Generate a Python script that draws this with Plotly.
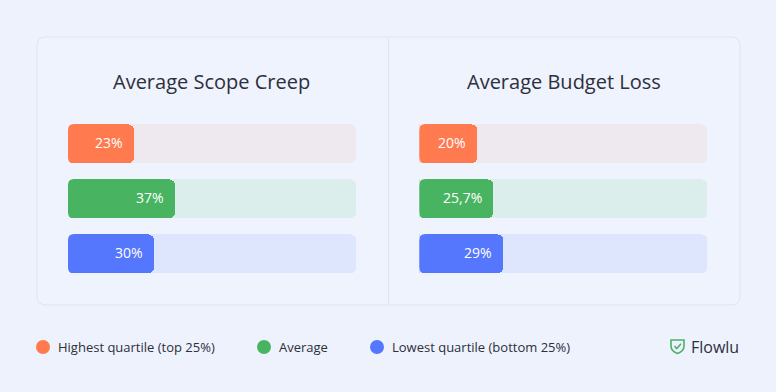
import plotly.graph_objects as go

W, H = 776, 392

categories = ["Highest quartile (top 25%)", "Average", "Lowest quartile (bottom 25%)"]
scope_creep = [23, 37, 30]
scope_labels = ["23%", "37%", "30%"]
budget_loss = [20, 25.7, 29]
budget_labels = ["20%", "25,7%", "29%"]
titles = ["Average Scope Creep", "Average Budget Loss"]
track_max = [100, 100, 100]

bar_colors = ["#FF7A4F", "#48B461", "#5577FD"]
track_colors = ["#EEE8EF", "#DCEEEC", "#DDE6FD"]
BG = "#EDF2FD"
CARD = "#EEF3FE"
TEXT = "#2D2F3B"
FONT = "Open Sans"
BAR_W = 0.72
CAT_PX = 55
RAD = 6


def px(x):
    return x / W


def py(y):
    return 1 - y / H


fig = go.Figure()

# track bars on x/y and x2/y2; value bars on overlaying axes x3/y3 and x4/y4
panels = [("x", "y", "x3", "y3", scope_creep, scope_labels),
          ("x2", "y2", "x4", "y4", budget_loss, budget_labels)]
half = BAR_W * CAT_PX / 2
mask_top = f"M -0.6,{half + 0.6} L {RAD},{half + 0.6} L {RAD},{half} Q 0,{half} 0,{half - RAD} L -0.6,{half - RAD} Z"
mask_bot = f"M -0.6,{-half - 0.6} L {RAD},{-half - 0.6} L {RAD},{-half} Q 0,{-half} 0,{-half + RAD} L -0.6,{-half + RAD} Z"

for xa, ya, xv, yv, vals, labels in panels:
    fig.add_trace(go.Bar(
        x=track_max, y=categories, orientation="h", xaxis=xa, yaxis=ya,
        marker=dict(color=track_colors, cornerradius=RAD, line=dict(width=0)),
        width=BAR_W, hoverinfo="skip", showlegend=False,
    ))
    fig.add_trace(go.Bar(
        x=vals, y=categories, orientation="h", xaxis=xv, yaxis=yv,
        marker=dict(color=bar_colors, cornerradius=RAD, line=dict(width=0)),
        width=BAR_W, showlegend=False,
    ))
    for v, c, lab in zip(vals, categories, labels):
        fig.add_annotation(
            x=v, y=c, xref=xv, yref=yv, text=lab, showarrow=False,
            xanchor="right", xshift=-9, yshift=1,
            font=dict(family=FONT, size=14, color="white"),
        )
        # round the left (base) corners by masking them with the card colour
        for mp in (mask_top, mask_bot):
            fig.add_shape(type="path", path=mp, xref=xv, yref=yv,
                          xsizemode="pixel", ysizemode="pixel",
                          xanchor=0, yanchor=c,
                          fillcolor=CARD, line=dict(width=0), layer="above")

ydom = [py(281.3), py(116.3)]
xdom1 = [px(68), px(356)]
xdom2 = [px(419.3), px(707.7)]
axis_common = dict(showgrid=False, zeroline=False, showticklabels=False, showline=False, fixedrange=True)
fig.update_layout(
    width=W, height=H, autosize=False,
    margin=dict(l=0, r=0, t=0, b=0),
    paper_bgcolor=BG, plot_bgcolor="rgba(0,0,0,0)",
    barmode="overlay", bargap=0,
    xaxis=dict(domain=xdom1, range=[0, 100], anchor="y", **axis_common),
    yaxis=dict(domain=ydom, autorange="reversed", anchor="x", **axis_common),
    xaxis2=dict(domain=xdom2, range=[0, 100], anchor="y2", **axis_common),
    yaxis2=dict(domain=ydom, autorange="reversed", anchor="x2", **axis_common),
    xaxis3=dict(domain=xdom1, range=[0, 100], anchor="y3", overlaying="x", **axis_common),
    yaxis3=dict(domain=ydom, autorange="reversed", anchor="x3", overlaying="y", **axis_common),
    xaxis4=dict(domain=xdom2, range=[0, 100], anchor="y4", overlaying="x2", **axis_common),
    yaxis4=dict(domain=ydom, autorange="reversed", anchor="x4", overlaying="y2", **axis_common),
    showlegend=False,
    font=dict(family=FONT, color=TEXT),
)

# card with rounded corners (pixel-sized path around its centre)
cw, ch, r = 351.5, 134, 9
card_path = (
    f"M {-cw + r},{-ch} L {cw - r},{-ch} Q {cw},{-ch} {cw},{-ch + r} "
    f"L {cw},{ch - r} Q {cw},{ch} {cw - r},{ch} L {-cw + r},{ch} "
    f"Q {-cw},{ch} {-cw},{ch - r} L {-cw},{-ch + r} Q {-cw},{-ch} {-cw + r},{-ch} Z"
)
fig.add_shape(type="path", path=card_path, xref="paper", yref="paper",
              xsizemode="pixel", ysizemode="pixel",
              xanchor=px(388.5), yanchor=py(171),
              line=dict(color="#DFE5F1", width=1), fillcolor=CARD, layer="below")
fig.add_shape(type="line", xref="paper", yref="paper",
              x0=px(388.5), x1=px(388.5), y0=py(305), y1=py(37),
              line=dict(color="#DFE5F1", width=1), layer="below")

# titles
for cx, t in zip([212, 563.5], titles):
    fig.add_annotation(x=px(cx), y=py(82), xref="paper", yref="paper", text=t,
                       showarrow=False, xanchor="center", yanchor="middle",
                       font=dict(family=FONT, size=20, color=TEXT))

# legend
leg_x = [43, 264, 377]
for lx, col, cat in zip(leg_x, bar_colors, categories):
    fig.add_shape(type="circle", xref="paper", yref="paper",
                  xsizemode="pixel", ysizemode="pixel",
                  xanchor=px(lx), yanchor=py(347),
                  x0=-7, x1=7, y0=-7, y1=7,
                  fillcolor=col, line=dict(width=0))
    fig.add_annotation(x=px(lx + 13), y=py(347), xref="paper", yref="paper", text=cat,
                       showarrow=False, xanchor="left", yanchor="middle",
                       font=dict(family=FONT, size=13, color=TEXT))

# Flowlu logo
shield = "M -6.5,6 L 6.5,6 L 6.5,0 Q 6.5,-5 0,-7.5 Q -6.5,-5 -6.5,0 Z"
check = "M -3,0 L -0.8,-2.5 L 3.5,2.2"
for p in (shield, check):
    fig.add_shape(type="path", path=p, xref="paper", yref="paper",
                  xsizemode="pixel", ysizemode="pixel",
                  xanchor=px(677.5), yanchor=py(346),
                  line=dict(color="#4DB068", width=1.6))
fig.add_annotation(x=px(689), y=py(347), xref="paper", yref="paper", text="Flowlu",
                   showarrow=False, xanchor="left", yanchor="middle",
                   font=dict(family=FONT, size=16, color=TEXT))

fig.write_html(
    "out.html",
    config={"displayModeBar": False},
    post_script=(
        "document.documentElement.style.margin='0';"
        "document.body.style.margin='0';"
        f"document.body.style.background='{BG}';"
    ),
)
